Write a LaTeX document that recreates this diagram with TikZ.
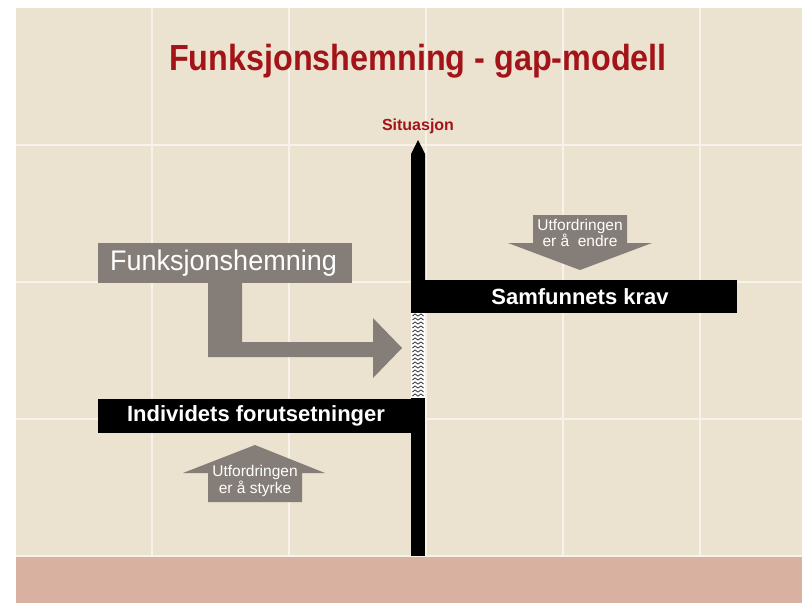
\documentclass[tikz,border=0pt]{standalone}
\usepackage{fontspec}
\setmainfont{Liberation Sans}
\definecolor{bgbeige}{HTML}{EBE2D0}
\definecolor{gridc}{HTML}{F7F3EA}
\definecolor{bandpink}{HTML}{D9B1A1}
\definecolor{titlered}{HTML}{A31419}
\definecolor{arrowgray}{HTML}{857D78}
\definecolor{gapgray}{HTML}{444444}
\tikzset{
  gridline/.style={draw=gridc, line width=1.6pt},
  grayshape/.style={fill=arrowgray},
  barshape/.style={fill=black},
  bartext/.style={text=white, font=\fontsize{22}{24}\selectfont\bfseries, inner sep=0pt},
  smalltext/.style={text=white, font=\fontsize{15.5}{15}\selectfont, align=center, inner sep=0pt},
}
\begin{document}
\begin{tikzpicture}[x=1pt,y=-1pt]
\useasboundingbox (0,0) rectangle (802,603);
\fill[white] (0,0) rectangle (802,603);
\fill[bgbeige] (16,8) rectangle (802,557);
\foreach \x in {152,289,426,563,700} \draw[gridline] (\x,8) -- (\x,556);
\foreach \y in {145,282,419,556} \draw[gridline] (16,\y) -- (802,\y);
\fill[bandpink] (16,557) rectangle (802,603);

% title
\node[text=titlered, font=\fontsize{33}{36}\selectfont\bfseries, inner sep=0pt] (title) at (418,61) {\scalebox{0.98}[1.1]{Funksjonshemning - gap-modell}};
\node[text=titlered, font=\fontsize{16}{18}\selectfont\bfseries, inner sep=0pt] (situasjon) at (418,126) {Situasjon};

% pole upper part and Samfunnets krav bar
\fill[barshape] (411,313) -- (411,154) -- (418,140) -- (425,154) -- (425,313) -- cycle;
\fill[barshape] (411,280) rectangle (737,313);
\node[bartext] (samfunn) at (580,297) {Samfunnets krav};

% gap
\fill[white] (411,313) rectangle (425,398);
\foreach \yy in {316,320,...,396}
  \draw[gapgray, line width=0.9pt] (412.5,\yy) -- (415,\yy-2) -- (418,\yy) -- (421,\yy-2) -- (423.5,\yy);

% lower pole and Individets bar
\fill[barshape] (411,398) rectangle (425,556);
\fill[barshape] (98,399) rectangle (425,433);
\node[bartext] (individ) at (256,416) {Individets forutsetninger};

% Funksjonshemning box and elbow arrow
\fill[grayshape] (98,243) rectangle (352,283);
\node[text=white, font=\fontsize{27}{30}\selectfont, inner sep=0pt, anchor=west] (funk) at (110,263) {\scalebox{1}[1.05]{Funksjonshemning}};
\fill[grayshape] (208,283) -- (242,283) -- (242,342) -- (373,342) -- (373,318) -- (402,348) -- (373,378) -- (373,357) -- (208,357) -- cycle;

% down arrow
\fill[grayshape] (533,215) -- (627,215) -- (627,243) -- (652,243) -- (580,270) -- (508,243) -- (533,243) -- cycle;
\node[smalltext] (endre) at (580,233) {Utfordringen\\er å\ \ endre};

% up arrow
\fill[grayshape] (255,445) -- (325,473) -- (302,473) -- (302,502) -- (208,502) -- (208,473) -- (183,473) -- cycle;
\node[smalltext] (styrke) at (255,481) {Utfordringen\\er å styrke};
\end{tikzpicture}
\end{document}
